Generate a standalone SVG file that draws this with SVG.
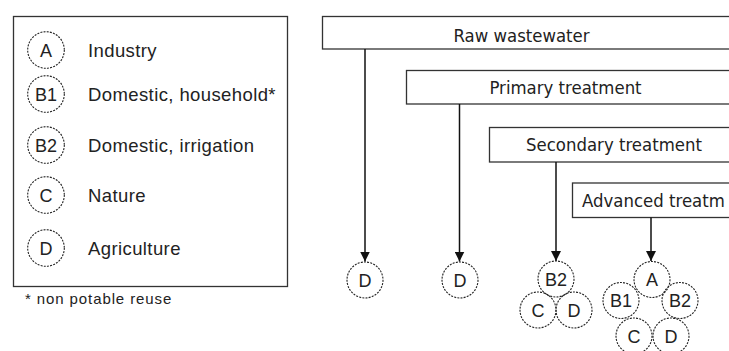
<svg xmlns="http://www.w3.org/2000/svg" width="729" height="351" viewBox="0 0 729 351">
<style>
.box{fill:#fff;stroke:#333;stroke-width:1.3}
.c{fill:none;stroke:#222;stroke-width:1.1;stroke-dasharray:2 1.2}
.ct{font-family:"Liberation Sans",Arial,sans-serif;font-size:18px;fill:#222;text-anchor:middle}
.lt{font-family:"Liberation Sans",Arial,sans-serif;font-size:18.5px;letter-spacing:0.4px;fill:#222}
.fn{font-family:"Liberation Sans",Arial,sans-serif;font-size:15px;letter-spacing:0.9px;fill:#222}
.bt{font-family:"DejaVu Sans",Verdana,sans-serif;font-size:18px;fill:#222}
.edge{stroke:#111;stroke-width:1.5;fill:none}
</style>
<defs>
<marker id="arr" markerWidth="10" markerHeight="10" refX="10" refY="5" orient="auto" markerUnits="userSpaceOnUse"><path d="M0,0 L10,5 L0,10 z" fill="#111"/></marker>
</defs>
<rect width="729" height="351" fill="#fff"/>

<g id="legend">
<rect x="13.5" y="16.5" width="274" height="270" fill="none" stroke="#333" stroke-width="1.3"/>
<g id="legend-A"><circle class="c" cx="46" cy="50" r="18.3"/><text class="ct" x="46" y="56.5">A</text><text class="lt" x="88" y="56.5">Industry</text></g>
<g id="legend-B1"><circle class="c" cx="46" cy="94" r="18.3"/><text class="ct" x="46" y="100.5">B1</text><text class="lt" x="88" y="100.5">Domestic, household*</text></g>
<g id="legend-B2"><circle class="c" cx="46" cy="145" r="18.3"/><text class="ct" x="46" y="151.5">B2</text><text class="lt" x="88" y="151.5">Domestic, irrigation</text></g>
<g id="legend-C"><circle class="c" cx="46" cy="195" r="18.3"/><text class="ct" x="46" y="201.5">C</text><text class="lt" x="88" y="201.5">Nature</text></g>
<g id="legend-D"><circle class="c" cx="46" cy="248" r="18.3"/><text class="ct" x="46" y="254.5">D</text><text class="lt" x="88" y="254.5">Agriculture</text></g>
</g>
<text class="fn" x="25" y="304">* non potable reuse</text>

<g id="raw"><rect class="box" x="322.5" y="16.5" width="420" height="32.5"/><text class="bt" text-anchor="middle" transform="translate(521.5,42) scale(0.92,1)">Raw wastewater</text></g>
<g id="primary"><rect class="box" x="406.5" y="70.5" width="340" height="33.5"/><text class="bt" text-anchor="middle" transform="translate(565.5,94) scale(0.92,1)">Primary treatment</text></g>
<g id="secondary"><rect class="box" x="489.5" y="127.5" width="260" height="34.5"/><text class="bt" text-anchor="middle" transform="translate(614,151) scale(0.92,1)">Secondary treatment</text></g>
<g id="advanced"><rect class="box" x="572.5" y="183" width="180" height="34.5"/><text class="bt" transform="translate(582,207) scale(0.92,1)">Advanced treatm</text></g>

<g id="connectors">
<line class="edge" x1="365" y1="49" x2="365" y2="261.5" marker-end="url(#arr)"/>
<line class="edge" x1="459.5" y1="104" x2="459.5" y2="261.5" marker-end="url(#arr)"/>
<line class="edge" x1="556" y1="162" x2="556" y2="261" marker-end="url(#arr)"/>
<line class="edge" x1="651" y1="217.5" x2="651" y2="261" marker-end="url(#arr)"/>
</g>

<g id="out-raw-D"><circle class="c" cx="365" cy="280" r="18"/><text class="ct" x="365" y="286.5">D</text></g>
<g id="out-primary-D"><circle class="c" cx="460" cy="280" r="18"/><text class="ct" x="460" y="286.5">D</text></g>
<g id="out-secondary">
<circle class="c" cx="556" cy="279" r="18"/><text class="ct" x="556" y="285.5">B2</text>
<circle class="c" cx="538" cy="310" r="18"/><text class="ct" x="538" y="316.5">C</text>
<circle class="c" cx="574" cy="310" r="18"/><text class="ct" x="574" y="316.5">D</text>
</g>
<g id="out-advanced">
<circle class="c" cx="652" cy="279.5" r="18"/><text class="ct" x="652" y="286">A</text>
<circle class="c" cx="621" cy="300.5" r="18"/><text class="ct" x="621" y="307">B1</text>
<circle class="c" cx="680" cy="300.5" r="18"/><text class="ct" x="680" y="307">B2</text>
<circle class="c" cx="634" cy="336" r="18"/><text class="ct" x="634" y="342.5">C</text>
<circle class="c" cx="671" cy="336" r="18"/><text class="ct" x="671" y="342.5">D</text>
</g>
</svg>
